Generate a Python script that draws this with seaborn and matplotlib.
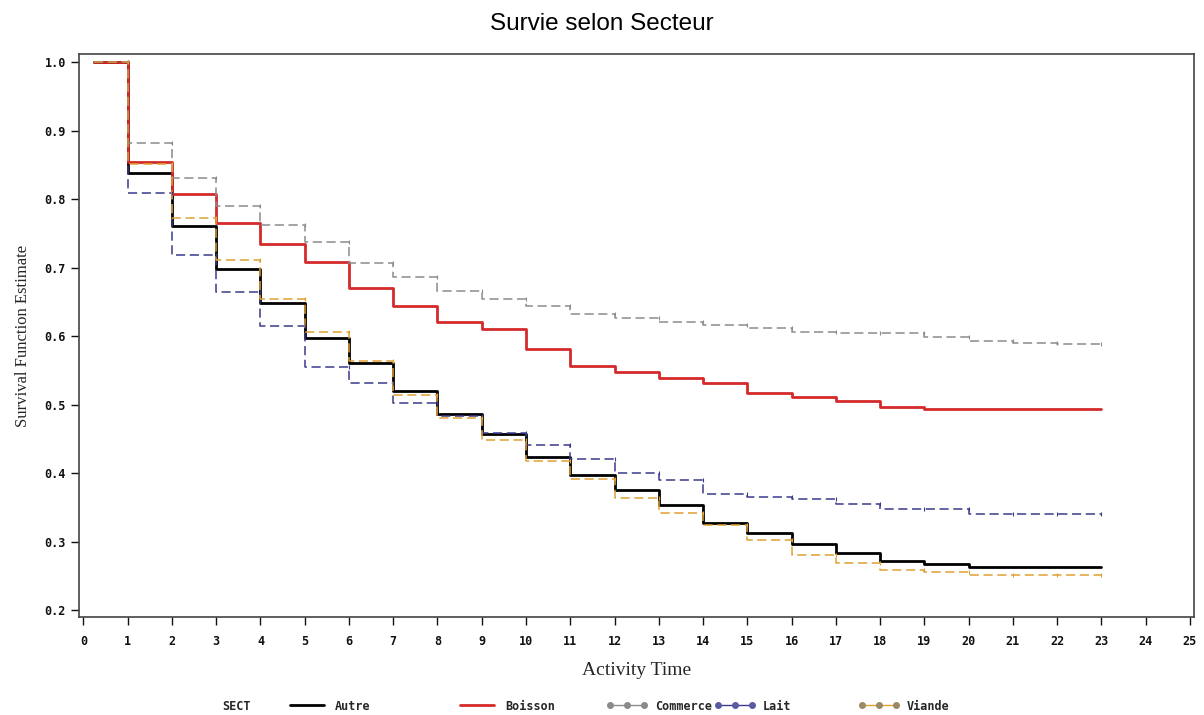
import numpy as np
import pandas as pd
import matplotlib
matplotlib.use('Agg')
import matplotlib.pyplot as plt
from matplotlib.lines import Line2D
import seaborn as sns

# survival estimates per sector
times = [0.25, 1, 2, 3, 4, 5, 6, 7, 8, 9, 10, 11, 12, 13, 14, 15, 16, 17, 18, 19, 20, 21, 22, 23]
autre = [1.0, 0.839, 0.761, 0.698, 0.649, 0.597, 0.561, 0.520, 0.486, 0.457, 0.424, 0.398,
         0.376, 0.354, 0.327, 0.313, 0.296, 0.283, 0.272, 0.268, 0.263, 0.263, 0.263, 0.263]
boisson = [1.0, 0.854, 0.807, 0.765, 0.734, 0.708, 0.670, 0.644, 0.621, 0.611, 0.582, 0.557,
           0.547, 0.539, 0.532, 0.517, 0.511, 0.506, 0.496, 0.493, 0.493, 0.493, 0.493, 0.493]
commerce = [1.0, 0.882, 0.831, 0.790, 0.763, 0.737, 0.707, 0.687, 0.666, 0.655, 0.644, 0.632,
            0.626, 0.621, 0.617, 0.612, 0.606, 0.605, 0.604, 0.599, 0.593, 0.590, 0.589, 0.589]
lait = [1.0, 0.809, 0.719, 0.665, 0.615, 0.555, 0.531, 0.503, 0.483, 0.459, 0.441, 0.420,
        0.400, 0.390, 0.369, 0.365, 0.362, 0.355, 0.347, 0.347, 0.341, 0.341, 0.341, 0.341]
viande = [1.0, 0.852, 0.773, 0.712, 0.654, 0.606, 0.564, 0.514, 0.480, 0.449, 0.418, 0.391,
          0.363, 0.342, 0.324, 0.302, 0.280, 0.269, 0.258, 0.256, 0.251, 0.251, 0.251, 0.251]

sectors = ['Autre', 'Boisson', 'Commerce', 'Lait', 'Viande']
series = [autre, boisson, commerce, lait, viande]
colors = ['#000000', '#d42a2a', '#8c8c8c', '#3a3a8c', '#e0a032']
marker_faces = [None, None, '#8a8a8a', '#5a5aa0', '#9a8a6a']

sns.set_style('ticks')

fig = plt.figure(figsize=(12.04, 7.15), dpi=100)
ax = fig.add_axes([0.0656, 0.137, 0.926, 0.787])

for name, vals, col in zip(sectors, series, colors):
    df = pd.DataFrame({'t': times, 's': vals})
    if name in ('Autre', 'Boisson'):
        sns.lineplot(data=df, x='t', y='s', ax=ax, color=col, lw=2.0,
                     drawstyle='steps-post', estimator=None)
    else:
        sns.lineplot(data=df, x='t', y='s', ax=ax, color=col, lw=1.1,
                     drawstyle='steps-post', estimator=None, dashes=False,
                     linestyle=(0, (6, 3)))
        # small censoring marks at each step
        ax.scatter(df['t'][1:], df['s'][:-1], s=5, color=col, marker='|', lw=0.8, zorder=3)

ax.set_xlim(-0.1, 25.09)
ax.set_ylim(0.1898, 1.0117)
ax.set_xticks(range(0, 26))
ax.set_yticks(np.arange(0.2, 1.01, 0.1))
ax.set_yticklabels([f'{v:.1f}' for v in np.arange(0.2, 1.01, 0.1)])
ax.tick_params(direction='out', length=6, width=1, colors='#111111', labelsize=8.5)
ax.tick_params(axis='x', pad=7)
for lab in ax.get_xticklabels() + ax.get_yticklabels():
    lab.set_family('DejaVu Sans Mono')
    lab.set_fontweight('bold')
for sp in ax.spines.values():
    sp.set_color('#444444')
    sp.set_linewidth(1.2)

ax.set_xlabel('Activity Time', family='Liberation Serif', fontsize=14, labelpad=10)
ax.set_ylabel('Survival Function Estimate', family='Liberation Serif', fontsize=12, labelpad=10)

fig.text(0.5, 0.966, 'Survie selon Secteur', ha='center', va='center',
         family='Liberation Sans', fontsize=17.5, color='black')

# legend along the bottom, one entry per sector at SAS-like spacing
legend_x = [276, 446, 596, 704, 848]
fig.text(222 / 1204, 1 - 706 / 715, 'SECT', family='DejaVu Sans Mono', fontweight='bold',
         fontsize=8.5, va='center')
for name, col, mf, lx in zip(sectors, colors, marker_faces, legend_x):
    if mf is None:
        h = Line2D([], [], color=col, lw=2)
    else:
        h = Line2D([], [], color=col, lw=1, marker='o', markersize=4,
                   markerfacecolor=mf, markeredgecolor=mf)
    fig.legend([h], [name], loc='center left', bbox_to_anchor=(lx / 1204, 1 - 706 / 715),
               frameon=False, numpoints=3, handlelength=3.5, handletextpad=0.6,
               prop={'family': 'DejaVu Sans Mono', 'weight': 'bold', 'size': 8.5})

plt.savefig('out.png', dpi=100)
plt.close()
